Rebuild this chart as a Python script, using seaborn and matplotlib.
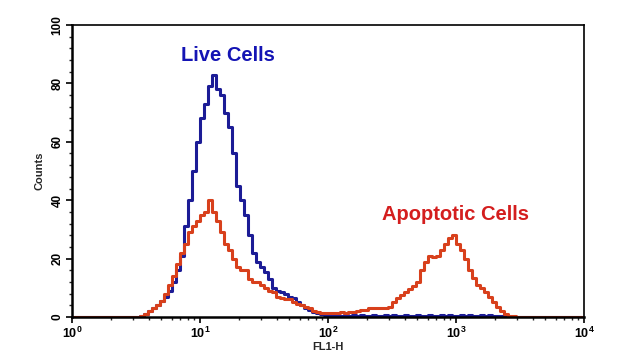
import numpy as np
import pandas as pd
import matplotlib
matplotlib.use("Agg")
import matplotlib.pyplot as plt
import seaborn as sns
from matplotlib.ticker import LogLocator, MultipleLocator, NullFormatter

# 128 log channels over 4 decades
n_channels = 128
first_channel = 16

live_counts = [0, 0.5, 1, 2, 3, 4, 5.5, 7, 9, 12, 16, 21, 31, 40, 50, 60, 68, 73, 79, 83,
               78, 76, 70, 65, 56, 45, 40, 35, 28, 22, 19, 17, 15.5, 13, 10, 9, 8.5, 8, 7, 6.5,
               5, 4, 3.2, 2.5, 1.8, 1.3, 1, 0.7, 0.4, 0.6, 0.3, 0.5, 0.8, 0.4, 0.6, 0.3, 0.7, 0.5,
               0.4, 0.8, 0.5, 0.3, 0.6, 0.5, 0.7, 0.4, 0.5, 0.6, 0.5, 0.4, 0.6, 0.5, 0.5, 0.8,
               0.5, 0.4, 0.6, 0.5, 0.7, 0.5, 0.4, 0.6, 0.5, 0.8, 0.5, 0.4, 0.7, 0.5, 0.6, 0.3,
               0.5, 0.2, 0, 0, 0, 0]

apoptotic_counts = [0, 0.5, 1, 2, 3, 4, 5.5, 8, 11, 14, 18, 22, 25, 29, 31, 33, 35, 36, 40, 36,
                    33, 29, 25, 23, 20, 17, 16, 16, 13, 12, 12, 11, 10, 9, 8.5, 7, 6.5, 6, 6, 5,
                    4.5, 4, 3.5, 3, 2, 1.7, 1.5, 1.3, 1.5, 1.2, 1.3, 1.7, 1.5, 1.8, 1.7, 2, 2.5,
                    2.5, 3, 3, 3, 3.2, 3, 3.5, 5, 6.5, 7.5, 8.5, 9.5, 10.5, 12, 16, 19, 21, 20.5,
                    21, 23, 25, 27, 28, 25, 23, 20, 16, 13.5, 11, 10, 8.5, 7, 5, 3.5, 2, 1, 0.5,
                    0.3, 0]

x_ticks = [1, 10, 100, 1000, 10000]
x_tick_labels = ["$10^0$", "$10^1$", "$10^2$", "$10^3$", "$10^4$"]


def full_channels(vals):
    tail = n_channels - first_channel - len(vals)
    return [0] * first_channel + list(vals) + [0] * tail


centers = 10 ** ((np.arange(n_channels) + 0.5) / 32)
df = pd.DataFrame({
    "FL1-H": np.concatenate([centers, centers]),
    "Counts": full_channels(live_counts) + full_channels(apoptotic_counts),
    "group": ["Live"] * n_channels + ["Apoptotic"] * n_channels,
})

sns.set_style("white")
plt.rcParams["font.family"] = ["Liberation Sans", "DejaVu Sans"]
plt.rcParams["mathtext.fontset"] = "custom"
plt.rcParams["mathtext.rm"] = "Liberation Sans:bold"

fig = plt.figure(figsize=(6.25, 3.61), dpi=100)
ax = fig.add_axes([0.1152, 0.1219, 0.8192, 0.8088])

sns.lineplot(data=df, x="FL1-H", y="Counts", hue="group",
             palette={"Live": "#1c1c96", "Apoptotic": "#d8401c"},
             drawstyle="steps-mid", linewidth=2.2, legend=False, ax=ax,
             estimator=None, sort=True)

ax.set_xscale("log")
ax.set_xlim(1, 10000)
ax.set_ylim(0, 100)

ax.set_xticks(x_ticks)
ax.set_xticklabels(x_tick_labels, fontsize=9)
ax.xaxis.set_minor_locator(LogLocator(base=10, subs=np.arange(2, 10)))
ax.xaxis.set_minor_formatter(NullFormatter())

ax.yaxis.set_major_locator(MultipleLocator(20))
ax.yaxis.set_minor_locator(MultipleLocator(4))
for lab in ax.get_yticklabels():
    lab.set_rotation(90)
    lab.set_va("center")
    lab.set_fontsize(8.5)
    lab.set_fontweight("bold")

ax.tick_params(axis="both", which="major", direction="out", length=4, width=1.2,
               left=True, bottom=True, pad=2, colors="black")
ax.tick_params(axis="both", which="minor", direction="out", length=2.5, width=1,
               left=True, bottom=True)

ax.set_xlabel("FL1-H", fontsize=8, fontweight="bold", labelpad=1)
ax.set_ylabel("Counts", fontsize=8, fontweight="bold", labelpad=5)

for side in ["left", "bottom"]:
    ax.spines[side].set_linewidth(1.8)
for side in ["top", "right"]:
    ax.spines[side].set_linewidth(1.2)
for sp in ax.spines.values():
    sp.set_color("black")

ax.text(16.5, 89.5, "Live Cells", color="#1414b4", fontsize=14.5, fontweight="bold",
        ha="center", va="center")
ax.text(1000, 35, "Apoptotic Cells", color="#d41e1e", fontsize=14.5, fontweight="bold",
        ha="center", va="center")

fig.savefig("out.png", dpi=100)
